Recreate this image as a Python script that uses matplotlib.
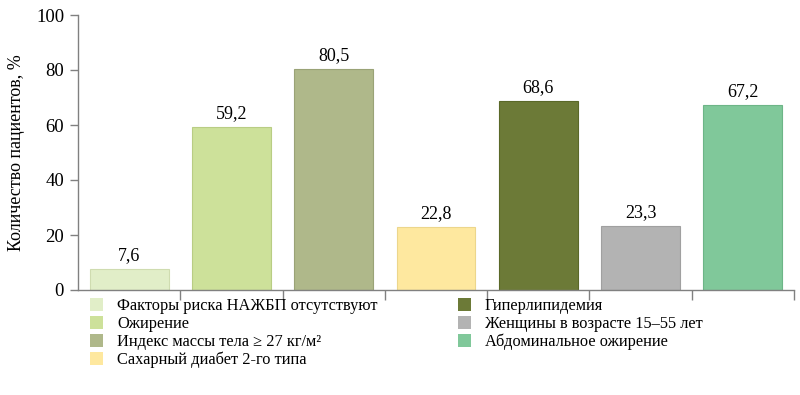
import matplotlib
matplotlib.use("Agg")
import matplotlib.pyplot as plt
from matplotlib.patches import Patch

categories = ["Факторы риска НАЖБП отсутствуют", "Ожирение",
              "Индекс массы тела ≥ 27 кг/м²", "Сахарный диабет 2-го типа",
              "Гиперлипидемия", "Женщины в возрасте 15–55 лет",
              "Абдоминальное ожирение"]
values = [7.6, 59.2, 80.5, 22.8, 68.6, 23.3, 67.2]
labels = ["7,6", "59,2", "80,5", "22,8", "68,6", "23,3", "67,2"]
colors = ["#e1eec8", "#cde19a", "#afb88a", "#fee89f", "#6c7a37", "#b3b3b3", "#80c89a"]
edges = ["#cfdcb0", "#b9cd84", "#9aa377", "#ecd68c", "#5a6828", "#a0a0a0", "#6db587"]
yticks = [0, 20, 40, 60, 80, 100]

plt.rcParams['font.family'] = ['Liberation Serif', 'DejaVu Serif']

fig = plt.figure(figsize=(8, 3.95), dpi=100)
ax = fig.add_axes([78/800, 1-290/395, (794-78)/800, 275/395])

x = list(range(len(values)))
ax.bar(x, values, width=0.77, color=colors, edgecolor=edges, linewidth=0.8)
for xi, v, lab in zip(x, values, labels):
    ax.text(xi, v + 1.8, lab, ha='center', va='bottom', fontsize=13)

ax.set_xlim(-0.5, len(values) - 0.5)
ax.set_ylim(0, 100)
ax.set_yticks(yticks)
ax.set_yticklabels([str(t) for t in yticks], fontsize=13.5)
ax.set_xticks([i + 0.5 for i in range(len(values))])
ax.set_xticklabels([])
ax.tick_params(axis='x', direction='out', length=7, color='#808080', width=1)
ax.tick_params(axis='y', direction='out', length=6, color='#808080', width=1, pad=4)
for s in ['top', 'right']:
    ax.spines[s].set_visible(False)
for s in ['left', 'bottom']:
    ax.spines[s].set_color('#808080')
    ax.spines[s].set_linewidth(1)
ax.set_ylabel("Количество пациентов, %", fontsize=13, labelpad=8)

handles = [Patch(facecolor=c, edgecolor='none') for c in colors]
fig.legend(handles, categories, ncol=2, loc='upper left',
           bbox_to_anchor=(90/800, 1 - 298/395), frameon=False,
           fontsize=11.8, handlelength=0.8, handleheight=0.8,
           handletextpad=0.85, labelspacing=0.12, columnspacing=4.9,
           borderpad=0, borderaxespad=0)

fig.savefig("out.png", dpi=100)
